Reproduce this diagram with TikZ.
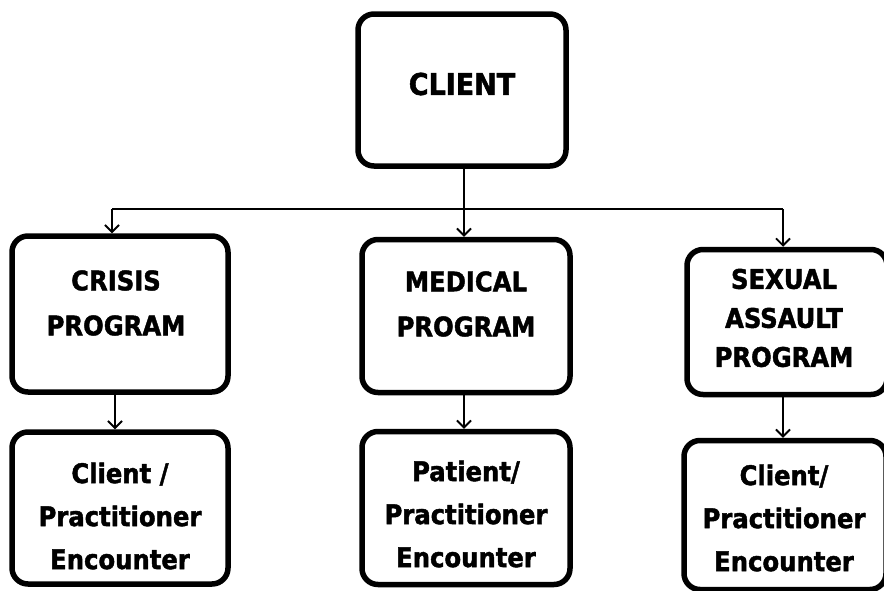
\documentclass[tikz,border=0pt]{standalone}
\usepackage{fontspec}
\setmainfont{DejaVu Sans Condensed}[BoldFont={DejaVu Sans Condensed Bold}, BoldFeatures={FakeBold=1.6}]
\usetikzlibrary{arrows.meta}
\begin{document}
\begin{tikzpicture}[x=1pt,y=-1pt,
  box/.style={draw=black, line width=5.5pt, rounded corners=16pt, fill=white},
  lbl/.style={font=\bfseries\fontsize{27}{45}\selectfont, align=center, inner sep=0pt},
  arr/.style={line width=1.8pt, -{Straight Barb[length=7pt,width=14pt,line width=1.8pt]}},
  conn/.style={line width=1.8pt}]
\useasboundingbox (0,0) rectangle (884,590);
% boxes
\node[box, minimum width=208pt, minimum height=152pt] (client) at (462,90) {};
\node[box, minimum width=216pt, minimum height=156pt] (crisis) at (120,314) {};
\node[box, minimum width=216pt, minimum height=152pt] (crisisenc) at (120,508) {};
\node[box, minimum width=208pt, minimum height=153pt] (medical) at (466,316) {};
\node[box, minimum width=208pt, minimum height=153pt] (medicalenc) at (466,508) {};
\node[box, minimum width=200pt, minimum height=145pt] (sexual) at (787,322) {};
\node[box, minimum width=202pt, minimum height=149pt] (sexualenc) at (785,515) {};
% texts
\node[lbl, font=\bfseries\fontsize{30}{36}\selectfont] (tclient) at (462,84) {CLIENT};
\node[lbl] (tcrisis) at (116,303) {CRISIS\\PROGRAM};
\node[lbl] (tmedical) at (466,304) {MEDICAL\\PROGRAM};
\node[lbl, font=\bfseries\fontsize{27}{39}\selectfont] (tsexual) at (784,318) {SEXUAL\\ASSAULT\\PROGRAM};
\node[lbl, font=\bfseries\fontsize{27}{43}\selectfont] (tcrisisenc) at (120,516) {Client /\\Practitioner\\Encounter};
\node[lbl, font=\bfseries\fontsize{27}{43}\selectfont] (tmedicalenc) at (466,514) {Patient/\\Practitioner\\Encounter};
\node[lbl, font=\bfseries\fontsize{27}{43}\selectfont] (tsexualenc) at (784,518) {Client/\\Practitioner\\Encounter};
% connectors
\coordinate (jm) at (464,209);
\coordinate (jl) at (112,209);
\coordinate (jr) at (783,209);
\draw[conn] (client.south -| jm) -- (jm);
\draw[conn] (jl) -- (jr);
\draw[arr] (jl) -- (jl |- crisis.north);
\draw[arr] (jm) -- (jm |- medical.north);
\draw[arr] (jr) -- (jr |- sexual.north);
\coordinate (a1) at (115,0);
\draw[arr] (crisis.south -| a1) -- (crisisenc.north -| a1);
\draw[arr] (medical.south -| jm) -- (medicalenc.north -| jm);
\draw[arr] (sexual.south -| jr) -- (sexualenc.north -| jr);
\end{tikzpicture}
\end{document}
